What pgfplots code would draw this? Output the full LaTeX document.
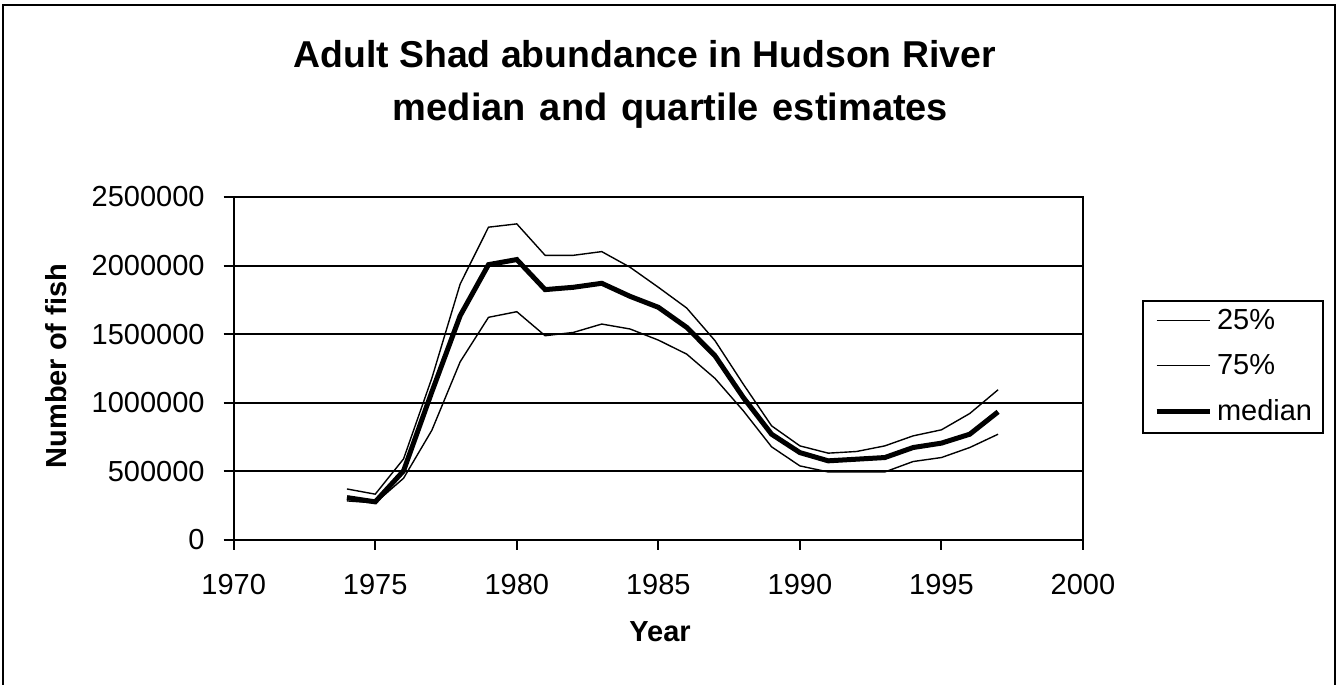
\documentclass[border=0pt]{standalone}
\usepackage{fontspec}
\setmainfont{Liberation Sans}
\usepackage{pgfplots}
\pgfplotsset{compat=1.18}
\usepackage{pgfplotstable}

\pgfplotstableread{
year  low     med     high
1974  285000  309000  372000
1975  270000  278000  334000
1976  450000  504000  591000
1977  800000  1080000 1180000
1978  1299000 1635000 1866000
1979  1623000 2007000 2280000
1980  1664000 2044000 2304000
1981  1489000 1825000 2075000
1982  1513000 1842000 2075000
1983  1574000 1871000 2102000
1984  1538000 1776000 1988000
1985  1457000 1696000 1842000
1986  1355000 1550000 1691000
1987  1178000 1343000 1453000
1988  942000  1039000 1136000
1989  679000  771000  832000
1990  540000  637000  686000
1991  496000  577000  633000
1992  496000  589000  645000
1993  496000  601000  686000
1994  572000  674000  759000
1995  601000  706000  803000
1996  674000  771000  922000
1997  771000  934000  1095000
}\shad

\begin{document}
\begin{tikzpicture}
\useasboundingbox (0pt,0pt) rectangle (670pt,342.5pt);
\draw[line width=1pt] (1.5pt,-2pt) -- (1.5pt,340pt) -- (667.5pt,340pt) -- (667.5pt,-2pt);
\node[anchor=base, font=\bfseries\fontsize{18.7pt}{22pt}\selectfont] at (322.25pt,308.5pt) {Adult Shad abundance in Hudson River};
\node[anchor=base, font=\bfseries\fontsize{19pt}{22pt}\selectfont] at (335.25pt,282pt) {\spaceskip=7pt median and quartile estimates};
\begin{axis}[
  at={(116.85pt,72.5pt)}, anchor=south west,
  scale only axis, width=424.65pt, height=171.5pt,
  xmin=1970, xmax=2000, ymin=0, ymax=2500000,
  xtick={1970,1975,...,2000},
  ytick={0,500000,...,2500000},
  scaled y ticks=false,
  /pgf/number format/assume math mode=true,
  /pgf/number format/.cd, fixed, 1000 sep={}, precision=0,
  /pgfplots/.cd,
  axis line style={line width=1pt},
  tick style={line width=1pt, black},
  tick align=outside, major tick length=5pt,
  xtick pos=bottom, ytick pos=left,
  ymajorgrids, grid style={line width=1pt, black},
  tick label style={font=\fontsize{14.5pt}{17pt}\selectfont},
  yticklabel style={inner sep=0pt, anchor=east, xshift=-9.35pt},
  xticklabel style={inner sep=0pt, anchor=north, yshift=-11.85pt},
  xlabel={Year}, ylabel={Number of fish},
  every axis x label/.style={at={(axis description cs:0.502,-0.297)}, anchor=base,
    font=\bfseries\fontsize{14.5pt}{17pt}\selectfont},
  every axis y label/.style={at={(axis description cs:-0.1963,0.507)}, rotate=90, anchor=base,
    font=\bfseries\fontsize{14.5pt}{17pt}\selectfont},
  legend cell align=left,
  legend image code/.code={\draw[#1] (0pt,0.7pt) -- (26.5pt,0.7pt);},
  legend style={at={(axis description cs:1.0695,0.504)}, anchor=west,
    font=\fontsize{14.5pt}{17pt}\selectfont, draw=black, line width=1pt,
    inner xsep=5.5pt, inner ysep=3.5pt, row sep=9.25pt, column sep=2.5pt,
    nodes={inner sep=0pt, text height=10.5pt, text depth=3pt}},
]
\addplot[black, line width=0.7pt] table[x=year, y=low] {\shad};
\addlegendentry{25\%}
\addplot[black, line width=0.7pt] table[x=year, y=high] {\shad};
\addlegendentry{75\%}
\addplot[black, line width=2.5pt] table[x=year, y=med] {\shad};
\addlegendentry{median}
\end{axis}
\end{tikzpicture}
\end{document}
